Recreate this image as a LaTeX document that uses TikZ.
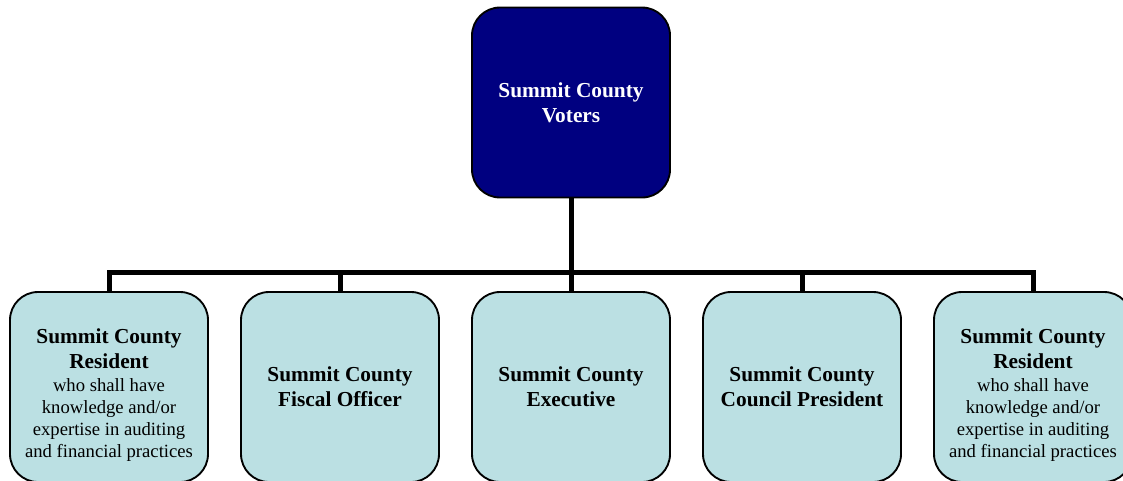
\documentclass[tikz,border=0pt]{standalone}
\usepackage{fontspec}
\setmainfont{Liberation Serif}
\usepackage{tikz}
\usetikzlibrary{positioning,calc}
\usepackage{xcolor}
\definecolor{scnavy}{RGB}{0,0,128}
\definecolor{sclightblue}{RGB}{187,224,227}
\tikzstyle{conn} = [line width=3.75pt, color=black]
\tikzstyle{office} = [rectangle, rounded corners=21pt, minimum width=148.5pt, minimum height=142.5pt, align=center, draw=black, line width=1.4pt, fill=sclightblue, font=\fontsize{16}{18.5}\selectfont\bfseries]
\newcommand{\resident}{\rule{0pt}{23pt}Summit County\\Resident\\[-1pt]{\fontsize{14}{15.5}\selectfont\mdseries who shall have}\\[-2pt]{\fontsize{14}{15.5}\selectfont\mdseries knowledge and/or}\\[-2pt]{\fontsize{14}{15.5}\selectfont\mdseries expertise in auditing}\\[-2pt]{\fontsize{14}{15.5}\selectfont\mdseries and financial practices}}

\begin{document}
\begin{tikzpicture}[x=0.75pt, y=-0.75pt]
    \clip (0,0) rectangle (1123,480);
    % Voters box
    \node[office, fill=scnavy, text=white] (voters) at (571,102.5) {Summit County\\Voters};

    % Office boxes
    \node[office] (res1) at (109,387) {\resident};
    \node[office] (fiscal) at (340,387) {Summit County\\Fiscal Officer};
    \node[office] (exec) at (571,387) {Summit County\\Executive};
    \node[office] (council) at (802,387) {Summit County\\Council President};
    \node[office] (res2) at (1033,387) {\resident};

    % Connectors
    \coordinate (bar) at (571,272.5);
    \draw[conn] (voters.south) -- (exec.north);
    \draw[conn] (res1.north) -- (res1.north |- bar) -- (res2.north |- bar) -- (res2.north);
    \foreach \n in {fiscal,council}
        \draw[conn] (\n.north) -- (\n.north |- bar);
\end{tikzpicture}
\end{document}
